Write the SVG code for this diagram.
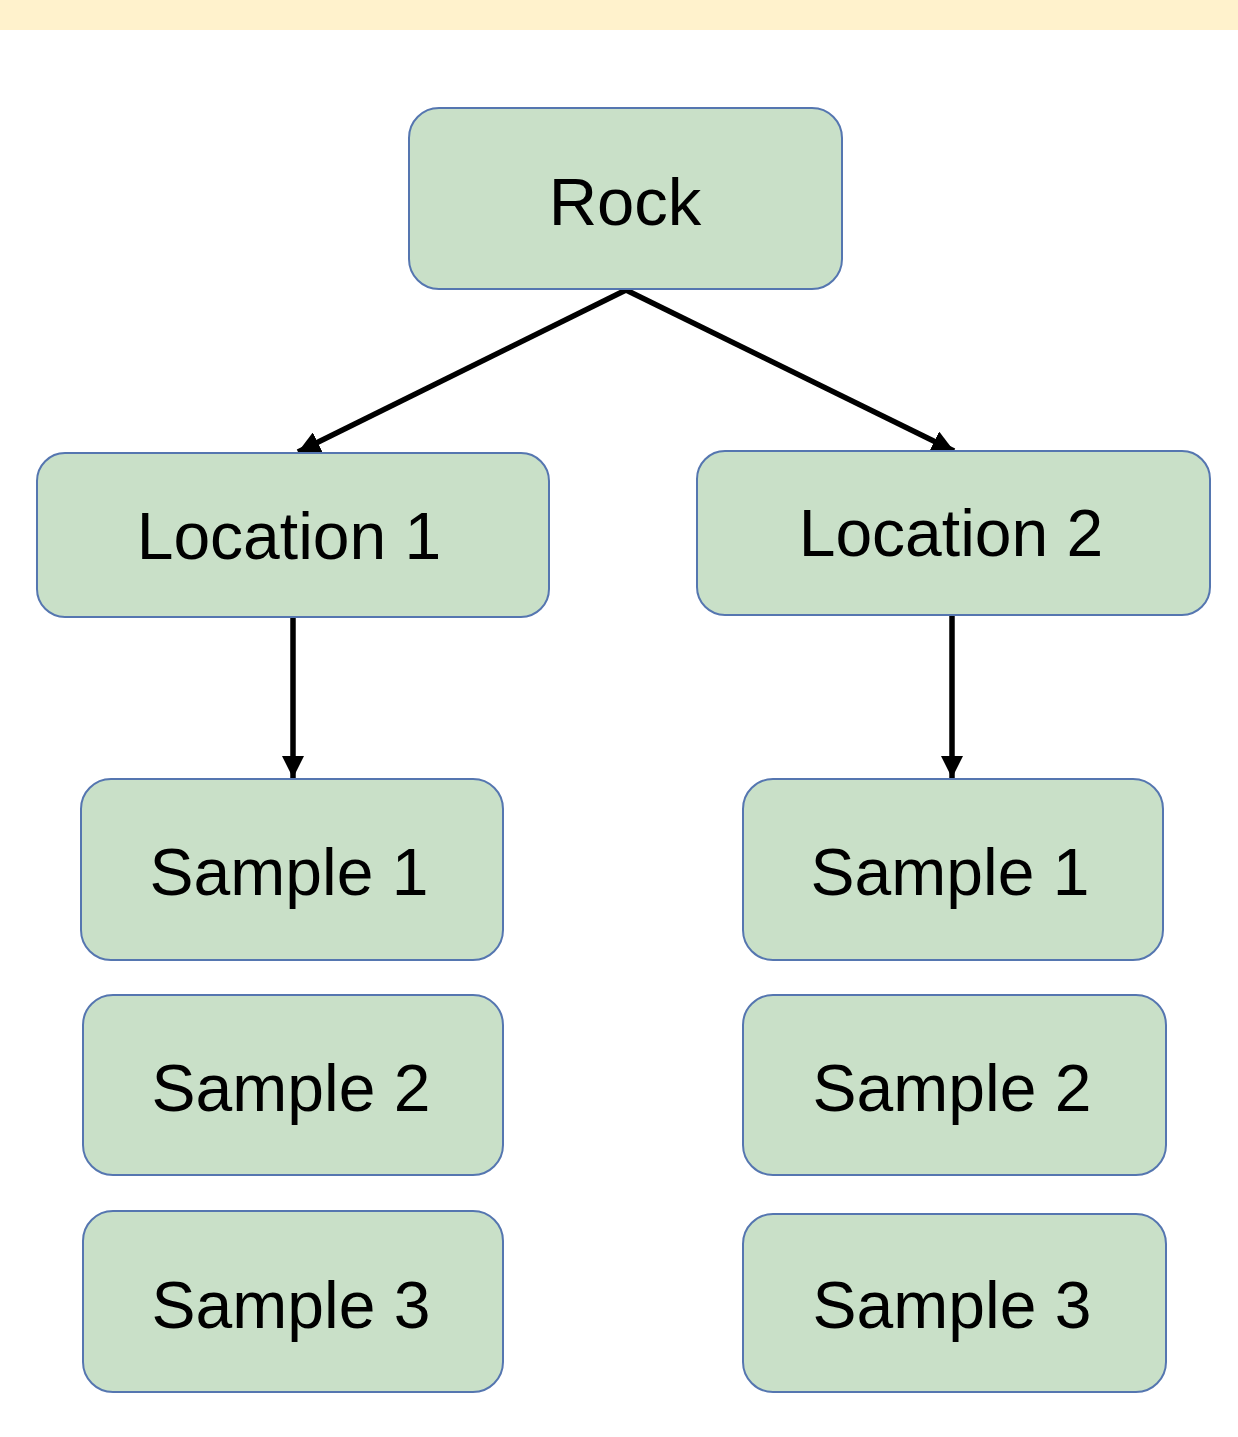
<svg xmlns="http://www.w3.org/2000/svg" width="1238" height="1437" viewBox="0 0 1238 1437">
<style>
.box{fill:#c9e0c8;stroke:#5576b0;stroke-width:2}
.lbl{font-family:"Liberation Sans",Arial,sans-serif;font-size:66px;fill:#000;text-anchor:middle}
.edge{stroke:#000;stroke-width:5.5;fill:none;marker-end:url(#ah)}
</style>
<defs>
<marker id="ah" viewBox="0 0 10 10" refX="10" refY="5" markerWidth="22" markerHeight="22" markerUnits="userSpaceOnUse" orient="auto">
<path d="M0,0 L10,5 L0,10 Z" fill="#000"/>
</marker>
</defs>
<rect x="0" y="0" width="1238" height="1437" fill="#fff"/>
<rect x="0" y="0" width="1238" height="30" fill="#fff2cc"/>
<g id="connectors">
<path class="edge" d="M626,290 L298,452"/>
<path class="edge" d="M626,290 L954,451"/>
<path class="edge" d="M293,618 L293,778"/>
<path class="edge" d="M952,616 L952,778"/>
</g>
<g id="rock"><rect class="box" x="409" y="108" width="433" height="181" rx="30"/><text class="lbl" x="625" y="225" style="font-size:67px">Rock</text></g>
<g id="location1"><rect class="box" x="37" y="453" width="512" height="164" rx="28"/><text class="lbl" x="289" y="559">Location 1</text></g>
<g id="location2"><rect class="box" x="697" y="451" width="513" height="164" rx="28"/><text class="lbl" x="951" y="556">Location 2</text></g>
<g id="l1-sample1"><rect class="box" x="81" y="779" width="422" height="181" rx="30"/><text class="lbl" x="289" y="895">Sample 1</text></g>
<g id="l1-sample2"><rect class="box" x="83" y="995" width="420" height="180" rx="30"/><text class="lbl" x="291" y="1111">Sample 2</text></g>
<g id="l1-sample3"><rect class="box" x="83" y="1211" width="420" height="181" rx="30"/><text class="lbl" x="291" y="1328">Sample 3</text></g>
<g id="l2-sample1"><rect class="box" x="743" y="779" width="420" height="181" rx="30"/><text class="lbl" x="950" y="895">Sample 1</text></g>
<g id="l2-sample2"><rect class="box" x="743" y="995" width="423" height="180" rx="30"/><text class="lbl" x="952" y="1111">Sample 2</text></g>
<g id="l2-sample3"><rect class="box" x="743" y="1214" width="423" height="178" rx="30"/><text class="lbl" x="952" y="1328">Sample 3</text></g>
</svg>
